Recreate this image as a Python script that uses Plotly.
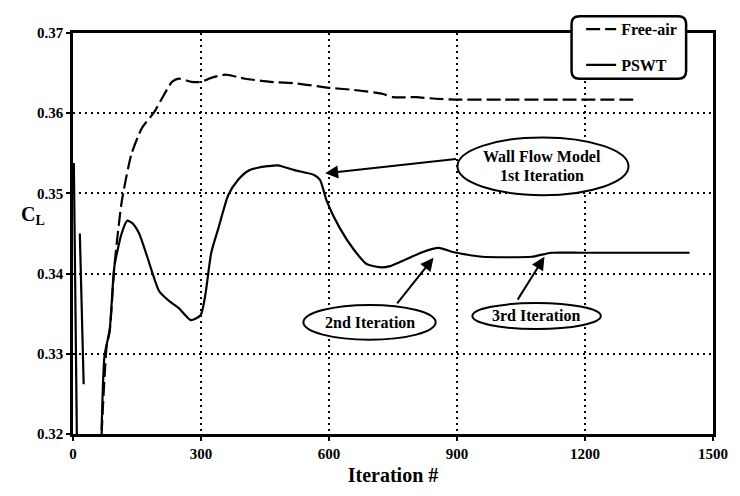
import plotly.graph_objects as go

# Lift coefficient history, free-air reference run
iter_free = [67, 79, 86, 97, 114, 137, 162, 190, 208, 232, 248, 278, 299, 324,
             357, 403, 417, 463, 526, 595, 658, 727, 750, 804, 850, 896, 1005,
             1158, 1313]
cl_free = [0.3200, 0.3310, 0.3328, 0.3409, 0.3489, 0.3549, 0.3582, 0.3601,
           0.3618, 0.3639, 0.3643, 0.3639, 0.3639, 0.3644, 0.3648, 0.3643,
           0.3642, 0.3639, 0.3637, 0.3632, 0.3629, 0.3624, 0.3620, 0.3620,
           0.3618, 0.3617, 0.3617, 0.3617, 0.3617]

# Lift coefficient history in the wind tunnel (PSWT); None marks gaps
iter_pswt = [2, 9, None, 16, 25, None, 67, 74, 86, 97, 114, 127, 139, 155,
             174, 202, 225, 248, 276, 299, 310, 324, 341, 364, 387, 410, 433,
             456, 480, 519, 565, 579, 595, 625, 658, 688, 718, 741, 781, 820,
             857, 890, 920, 959, 1075, 1121, 1191, 1306, 1445]
cl_pswt = [0.3538, 0.3200, None, 0.3450, 0.3262, None, 0.3205, 0.3298,
           0.3330, 0.3409, 0.3450, 0.3466, 0.3463, 0.3450, 0.3421, 0.3378,
           0.3366, 0.3357, 0.3342, 0.3348, 0.3373, 0.3426, 0.3457, 0.3498,
           0.3517, 0.3528, 0.3532, 0.3534, 0.3535, 0.3529, 0.3523, 0.3517,
           0.3490, 0.3457, 0.3430, 0.3412, 0.3408, 0.3409, 0.3418, 0.3427,
           0.3432, 0.3427, 0.3424, 0.3421, 0.3421, 0.3426, 0.3426, 0.3426,
           0.3426]

x_ticks = [0, 300, 600, 900, 1200, 1500]
y_ticks = [0.32, 0.33, 0.34, 0.35, 0.36, 0.37]

SERIF = "Liberation Serif"
BOLD = dict(family=SERIF, weight="bold", color="black")

fig = go.Figure()
fig.add_trace(go.Scatter(
    x=iter_free, y=cl_free, mode="lines", name="Free-air",
    legendgroup="free",
    line=dict(color="black", width=2.2, dash="14px,5px", shape="spline",
              smoothing=0.6),
))
fig.add_trace(go.Scatter(
    x=iter_pswt, y=cl_pswt, mode="lines", name="PSWT",
    legendgroup="pswt", connectgaps=False,
    line=dict(color="black", width=2.2, shape="spline", smoothing=0.6),
))

# Rounded frame behind the legend (paper coordinates)
x0, x1, y0, y1 = 0.779, 0.958, 0.886, 1.042
rx, ry = 0.0124, 0.0192
legend_frame = (
    f"M {x0+rx},{y1} L {x1-rx},{y1} Q {x1},{y1} {x1},{y1-ry} "
    f"L {x1},{y0+ry} Q {x1},{y0} {x1-rx},{y0} "
    f"L {x0+rx},{y0} Q {x0},{y0} {x0},{y0+ry} "
    f"L {x0},{y1-ry} Q {x0},{y1} {x0+rx},{y1} Z"
)
shapes = [dict(type="path", path=legend_frame, xref="paper", yref="paper",
               fillcolor="white", line=dict(color="black", width=2.5),
               layer="above")]

# Callout ellipses (data coordinates)
ellipses = [
    (901, 1302, 0.34977, 0.35698),
    (540, 850, 0.33176, 0.33609),
    (936, 1237, 0.33309, 0.33633),
]
for ex0, ex1, ey0, ey1 in ellipses:
    shapes.append(dict(type="circle", xref="x", yref="y",
                       x0=ex0, x1=ex1, y0=ey0, y1=ey1,
                       fillcolor="white", line=dict(color="black", width=2),
                       layer="above"))

CALLOUT_FONT = dict(size=16, **BOLD)
ARROW = dict(xref="x", yref="y", axref="x", ayref="y", text="",
             showarrow=True, arrowhead=2, arrowsize=1.3, arrowwidth=2,
             arrowcolor="black")

annotations = [
    dict(x=1100, y=0.35458, xref="x", yref="y", showarrow=False,
         text="Wall Flow Model", font=CALLOUT_FONT),
    dict(x=1100, y=0.35218, xref="x", yref="y", showarrow=False,
         text="1st Iteration", font=CALLOUT_FONT),
    dict(x=695, y=0.33393, xref="x", yref="y", showarrow=False,
         text="2nd Iteration", font=CALLOUT_FONT),
    dict(x=1086, y=0.33477, xref="x", yref="y", showarrow=False,
         text="3rd Iteration", font=CALLOUT_FONT),
    # arrows from the callouts to the curve
    dict(x=591, y=0.3525, ax=901, ay=0.3543, **ARROW),
    dict(x=845, y=0.34197, ax=757, ay=0.33609, **ARROW),
    dict(x=1105, y=0.34209, ax=1040, ay=0.33657, **ARROW),
    # y-axis title
    dict(x=-0.085, y=0.545, xref="paper", yref="paper", showarrow=False,
         text="C<sub>L</sub>", font=dict(size=20, **BOLD)),
]

fig.update_layout(
    width=740, height=496,
    margin=dict(l=73, r=20, t=25, b=55),
    paper_bgcolor="white", plot_bgcolor="white",
    shapes=shapes, annotations=annotations,
    showlegend=True,
    legend=dict(x=0.794, y=1.052, xanchor="left", yanchor="top",
                bgcolor="rgba(0,0,0,0)", borderwidth=0,
                traceorder="grouped", tracegroupgap=12,
                font=dict(size=16, **BOLD)),
    xaxis=dict(
        range=[0, 1500], tickvals=x_ticks, ticktext=[str(v) for v in x_ticks],
        showline=True, linecolor="black", linewidth=2.5, mirror=True,
        ticks="outside", ticklen=4, tickwidth=2, tickcolor="black",
        showgrid=True, gridcolor="black", gridwidth=2, griddash="2px,4px",
        zeroline=False, tickfont=dict(size=15, **BOLD),
        title=dict(text="Iteration #", font=dict(size=20, **BOLD),
                   standoff=8),
    ),
    yaxis=dict(
        range=[0.32, 0.37], tickvals=y_ticks,
        ticktext=[f"{v:.2f}" for v in y_ticks],
        showline=True, linecolor="black", linewidth=2.5, mirror=True,
        ticks="outside", ticklen=4, tickwidth=2, tickcolor="black",
        showgrid=True, gridcolor="black", gridwidth=2, griddash="2px,4px",
        zeroline=False, tickfont=dict(size=15, **BOLD),
    ),
)

fig.write_html("out.html")
